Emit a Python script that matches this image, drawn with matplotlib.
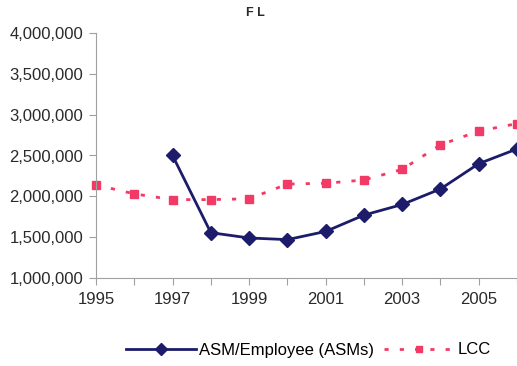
import numpy as np
import matplotlib.pyplot as plt
from matplotlib.ticker import FuncFormatter, MultipleLocator

plt.rcParams['font.family'] = ['Liberation Sans', 'DejaVu Sans']

# dados
anos_asm = [1997, 1998, 1999, 2000, 2001, 2002, 2003, 2004, 2005, 2006]
asm = [2500000, 1555000, 1490000, 1470000, 1570000, 1770000, 1900000, 2090000, 2400000, 2580000]
anos_lcc = [1995, 1996, 1997, 1998, 1999, 2000, 2001, 2002, 2003, 2004, 2005, 2006]
lcc = [2140000, 2030000, 1960000, 1960000, 1970000, 2150000, 2160000, 2200000, 2330000, 2630000, 2800000, 2890000]

fig = plt.figure(figsize=(5.17, 3.66), dpi=100)
ax = fig.add_axes([96/517, 1 - 278/366, 1 - 96/517, 245/366])

ax.plot(anos_asm, asm, color='#1c1c6b', linewidth=2, marker='D', markersize=7,
        label='ASM/Employee (ASMs)', clip_on=False, zorder=3)
ax.plot(anos_lcc, lcc, color='#f23a66', linewidth=2, linestyle=(0, (1.5, 4)),
        marker='s', markersize=5.5, label='LCC', clip_on=False, zorder=2)

ax.set_xlim(1995, 2006)
ax.set_ylim(1000000, 4000000)
ax.xaxis.set_major_locator(MultipleLocator(1))
ax.xaxis.set_major_formatter(FuncFormatter(lambda v, p: str(int(v)) if int(v) % 2 == 1 else ''))
ax.yaxis.set_major_locator(MultipleLocator(500000))
ax.yaxis.set_major_formatter(FuncFormatter(lambda v, p: f'{int(v):,}'))

for s in ['top', 'right']:
    ax.spines[s].set_visible(False)
for s in ['left', 'bottom']:
    ax.spines[s].set_color('#a0a0a0')
ax.tick_params(axis='both', colors='#a0a0a0', labelcolor='#2a2a2a', labelsize=12, length=5)
ax.tick_params(axis='y', pad=4)
ax.tick_params(axis='x', pad=5)

fig.text(255/517, 1 - 13/366, 'F L', fontsize=9, fontweight='bold', ha='center', va='center', color='#2a2a2a')

leg = fig.legend(loc='center', bbox_to_anchor=(308/517, 1 - 350/366), ncol=2, frameon=False,
                 fontsize=12, handlelength=4.2, handletextpad=0.2, columnspacing=0.6)
leg.legend_handles[0].set_markersize(6.5)
leg.legend_handles[1].set_markersize(4.5)

fig.savefig('out.png', dpi=100)
